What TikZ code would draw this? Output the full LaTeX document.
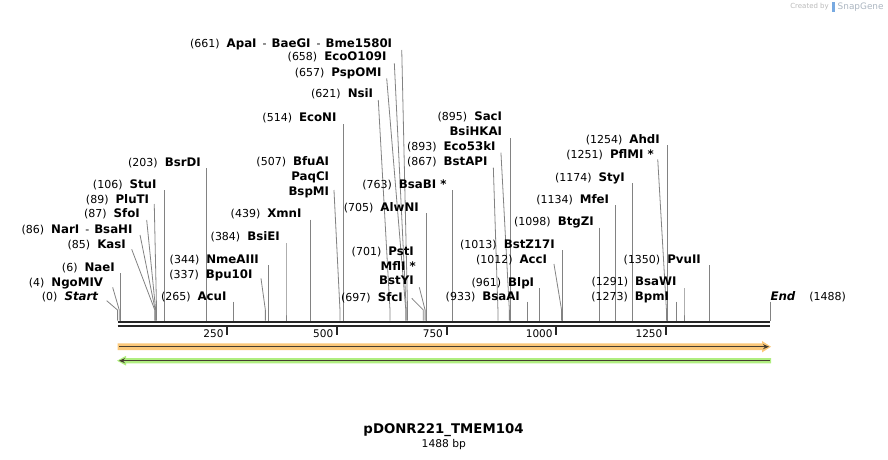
\documentclass[tikz,border=0pt]{standalone}
\usepackage{fontspec}
\setmainfont{DejaVu Sans}
\usetikzlibrary{arrows.meta,positioning}

\definecolor{sitegray}{RGB}{130,130,130}
\definecolor{backbone}{RGB}{38,38,38}
\definecolor{orangeband}{RGB}{251,200,122}
\definecolor{greenband}{RGB}{176,238,128}
\definecolor{featdark}{RGB}{70,62,48}
\definecolor{logogray}{RGB}{185,185,185}
\definecolor{logoblue}{RGB}{120,170,225}

\newcommand{\nm}[1]{{\fontsize{11.8}{13}\selectfont\bfseries #1}}
\newcommand{\enz}[2]{(#1)\hspace{7pt}\nm{#2}}

\begin{document}
\begin{tikzpicture}[x=1pt,y=-1pt,
	enzlbl/.style={anchor=base east,inner sep=0pt,font=\fontsize{11}{13}\selectfont},
	ticklbl/.style={anchor=east,inner sep=0pt,font=\fontsize{10.5}{12}\selectfont},
	cutline/.style={draw=sitegray,line width=0.8pt},
	bbline/.style={draw=backbone,line width=2.7pt},
	tickmark/.style={draw=backbone,line width=2pt},
	featline/.style={draw=featdark,line width=1.5pt}]
	  \useasboundingbox (0,0) rectangle (888,460);

	  % sites: bp / right end of label / label centre / label / shift of line top / line top
	  \foreach \p/\xe/\yc/\txt/\dx/\yt in {
	    0/98.3/296.7/{(0)\hspace{7pt}\nm{\itshape Start}}/-10.8/300.7,
	    4/103.3/282.3/{\enz{4}{NgoMIV}}/-6.6/287.3,
	    6/115/267.3/{\enz{6}{NaeI}}/0/273.3,
	    85/126/244/{\enz{85}{KasI}}/-23.1/249.3,
	    86/132.7/229/{(86)\hspace{7pt}\nm{NarI}\hspace{6pt}-\hspace{5pt}\nm{BsaHI}}/-15.2/235,
	    87/140/213.3/{\enz{87}{SfoI}}/-9/220,
	    89/149.3/199/{\enz{89}{PluTI}}/-2.3/204,
	    106/156.7/184/{\enz{106}{StuI}}/0/190,
	    203/201/162.3/{\enz{203}{BsrDI}}/0/168.3,
	    265/226.7/296.7/{\enz{265}{AcuI}}/0/301.7,
	    337/252.7/274/{\enz{337}{Bpu10I}}/-4.4/278.3,
	    344/259/259/{\enz{344}{NmeAIII}}/0/265,
	    384/280/236.7/{\enz{384}{BsiEI}}/0/243.3,
	    439/301.7/213.5/{\enz{439}{XmnI}}/0/219.5,
	    507/329.3/161.7/{\enz{507}{BfuAI}}/-6/190,
	    514/336.7/117/{\enz{514}{EcoNI}}/0/124,
	    621/373.3/93.3/{\enz{621}{NsiI}}/-11.7/100,
	    657/381.7/72.3/{\enz{657}{PspOMI}}/-19.1/78.3,
	    658/386.7/56.7/{\enz{658}{EcoO109I}}/-11.9/63.3,
	    661/392.3/43.3/{(661)\hspace{7pt}\nm{ApaI}\hspace{6pt}-\hspace{5pt}\nm{BaeGI}\hspace{6pt}-\hspace{5pt}\nm{Bme1580I}}/-5.8/50,
	    697/403/297/{\enz{697}{SfcI}}/-11.6/298.3,
	    701/414/251.7/{\enz{701}{PstI}}/-5.8/287.3,
	    705/419/207.3/{\enz{705}{AlwNI}}/0/213.3,
	    763/446.7/184/{\enz{763}{BsaBI *}}/0/190,
	    867/487.7/161.7/{\enz{867}{BstAPI}}/-4.6/167.7,
	    893/495.7/146.7/{\enz{893}{Eco53kI}}/-8.4/152.7,
	    895/502.3/116/{\enz{895}{SacI}}/0/138.3,
	    933/520/296.7/{\enz{933}{BsaAI}}/0/301.7,
	    961/534.3/282.3/{\enz{961}{BlpI}}/0/288.3,
	    1012/547.3/259/{\enz{1012}{AccI}}/-7.6/264,
	    1013/555/244/{\enz{1013}{BstZ17I}}/0/250,
	    1098/594/221.7/{\enz{1098}{BtgZI}}/0/227.7,
	    1134/609.3/199/{\enz{1134}{MfeI}}/0/205,
	    1174/625/177.3/{\enz{1174}{StyI}}/0/183.3,
	    1251/654/154/{\enz{1251}{PflMI *}}/-8.7/159.3,
	    1254/660/139/{\enz{1254}{AhdI}}/0/145,
	    1273/669.3/296.7/{\enz{1273}{BpmI}}/0/301.7,
	    1291/676.7/281.7/{\enz{1291}{BsaWI}}/0/288,
	    1350/701/259/{\enz{1350}{PvuII}}/0/265}
	  {
	    \node[enzlbl] (l\p) at (\xe,\yc+4) {\txt};
	    \coordinate (s\p) at ({117.5+0.4388*\p},320.5);
	    \coordinate (b\p) at ({117.5+0.4388*\p},310);
	    \coordinate (t\p) at ({117.5+0.4388*\p+\dx},\yt);
	    \draw[cutline] (t\p) -- (b\p) -- (s\p);
	  }

	  % names sharing a site
	  \node[enzlbl] (l507b) at (329.3,180.7) {\nm{PaqCI}};
	  \node[enzlbl] (l507c) at (329.3,195.2) {\nm{BspMI}};
	  \node[enzlbl] (l895b) at (502.3,135.7) {\nm{BsiHKAI}};
	  \node[enzlbl] (l701b) at (416,270.7) {\nm{MflI *}};
	  \node[enzlbl] (l701c) at (414,284.7) {\nm{BstYI}};

	  % end of sequence
	  \node[enzlbl,anchor=base west] (lEnd) at (770.3,300.7) {\nm{\itshape End}\hspace{14pt}(1488)};
	  \coordinate (sEnd) at ({117.5+0.4388*1488},320.5);
	  \coordinate (tEnd) at ({117.5+0.4388*1488},301.7);
	  \draw[cutline] (tEnd) -- (sEnd);

	  % backbone
	  \draw[bbline] (117.5,322) -- (770.4,322);
	  \draw[bbline] (117.5,326) -- (770.4,326);
	  \foreach \t in {250,500,750,1000,1250}
	  {
	    \coordinate (k\t) at ({117.5+0.4388*\t},327);
	    \draw[tickmark] (k\t) -- ++(0,8);
	    \node[ticklbl] (tick\t) at ({117.5+0.4388*\t-3.5},333.3) {\t};
	  }

	  % features
	  \fill[orangeband] (117.5,343.3) -- (762,343.3) -- (762,341) -- (771,346.7) -- (762,352.4) -- (762,350) -- (117.5,350) -- cycle;
	  \draw[featline,-{Stealth[length=6pt,width=5pt]}] (119,346.7) -- (769,346.7);
	  \fill[greenband] (771,358) -- (126,358) -- (126,355.8) -- (117,360.7) -- (126,365.6) -- (126,363.4) -- (771,363.4) -- cycle;
	  \draw[featline,-{Stealth[length=6pt,width=5pt]}] (769.5,360.7) -- (119,360.7);

	  % title
	  \node[font=\bfseries\fontsize{13.3}{15}\selectfont] (title) at (443.5,430) {pDONR221\_TMEM104};
	  \node[font=\fontsize{10.7}{12}\selectfont] (size) at (443.8,444.3) {1488 bp};

	  % logo
	  \node[anchor=east,inner sep=0pt,text=logogray,font=\fontsize{7}{8}\selectfont] (created) at (829,7) {Created by};
	  \fill[logoblue] (832,2) rectangle (835,12);
	  \node[anchor=west,inner sep=0pt,text=logogray!80!logoblue,font=\fontsize{8.9}{10}\selectfont] (snapgene) at (837.5,7) {SnapGene};
\end{tikzpicture}
\end{document}
